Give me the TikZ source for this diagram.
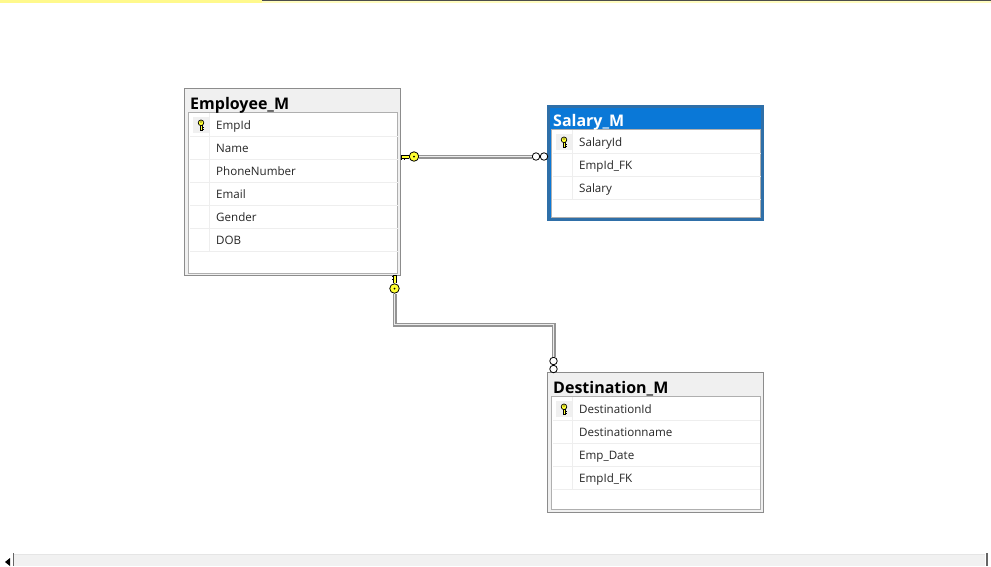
\documentclass[tikz,border=0pt]{standalone}
\usepackage{fontspec}
\setmainfont{Open Sans}
\usepackage{tikz}
\usetikzlibrary{positioning}
\definecolor{keyyellow}{HTML}{FFFF33}
\definecolor{titlegray}{HTML}{F0F0F0}
\definecolor{boxgray}{HTML}{8C8C8C}
\definecolor{rulegray}{HTML}{EEEEEE}
\definecolor{selblue}{HTML}{0A78D7}
\definecolor{selframe}{HTML}{2F6FA8}
\definecolor{barbg}{HTML}{F1F1F1}
\newcommand{\rowrule}[3]{\draw[rowrule] (#1,#3) -- (#2,#3);}

\begin{document}
\begin{tikzpicture}[x=1pt,y=-1pt,
	tablebox/.style={draw=boxgray,fill=titlegray,line width=1pt,inner sep=0pt,minimum width=216pt},
	selbox/.style={draw=selframe,fill=selblue,line width=3pt,inner sep=0pt,minimum width=214pt},
	tablebody/.style={draw=boxgray!70,fill=white,line width=1pt,inner sep=0pt,minimum width=209pt},
	title/.style={anchor=base west,inner sep=0pt,font=\fontsize{16}{16}\selectfont\bfseries},
	field/.style={anchor=base west,inner sep=0pt,font=\fontsize{11.6}{12}\selectfont,text=black!85},
	rowrule/.style={draw=rulegray,line width=0.8pt},
	keycell/.style={fill=titlegray,inner sep=0pt,minimum size=16pt},
	keyhead/.style={circle,draw=black,fill=keyyellow,line width=0.8pt,inner sep=0pt,minimum size=9.5pt},
	loopend/.style={circle,draw=black,fill=white,line width=0.8pt,inner sep=0pt,minimum size=7.5pt},
	relation/.style={draw=black!42,double=white!92!black,double distance=1.2pt,line width=1.4pt},
	keyshaft/.pic={
		\draw[black,line width=0.7pt,fill=keyyellow] (0,-1.5) -- (-8,-1.5) -- (-8,1.5) -- (0,1.5);
		\draw[black,line width=0.9pt] (-7,1.5) -- (-7,3) (-4,1.5) -- (-4,3);
	},
	smallkey/.pic={
		\draw[black,line width=0.6pt,fill=keyyellow] (-1,0) rectangle (1,5);
		\draw[black,line width=0.6pt] (1,2.5) -- (2.6,2.5) (1,4.5) -- (2.6,4.5);
		\draw[black,line width=0.7pt,fill=keyyellow] (0,-2.2) circle (2.8pt);
		\fill[black] (0,-3) circle (0.6pt);
	}]
\useasboundingbox (0,0) rectangle (991,566);
\fill[white] (0,0) rectangle (991,566);

% top strip
\fill[yellow!45] (0,0) rectangle (262,2.5);
\fill[yellow!25] (262,0) rectangle (991,2.5);
\draw[black!70,line width=0.8pt] (262,0.4) -- (991,0.4);

% scroll bar
\fill[barbg] (14,554) rectangle (985,566);
\draw[black!10,line width=0.8pt] (14,554) -- (985,554);
\fill[black] (10,558) -- (10,566) -- (5,562) -- cycle;
\draw[black!60,line width=1pt] (13,553) -- (13,566);
\draw[black!60,line width=1.2pt] (987,553) -- (987,566);

% Employee_M
\node[tablebox,minimum height=187pt] (employee) at (292.7,182.2) {};
\node[tablebody,minimum height=161pt] (employeeBody) at (293.2,192.5) {};
\node[title] (employeeTitle) at (190,109) {Employee\_M};
\draw[rowrule] (209,113) -- (209,251);
\rowrule{190}{398}{136}
\rowrule{190}{398}{159}
\rowrule{190}{398}{182}
\rowrule{190}{398}{205}
\rowrule{190}{398}{228}
\rowrule{190}{398}{251}
\node[keycell] (empCell) at (201,125) {};
\pic at (201,125) {smallkey};
\node[field] (empId) at (216,129) {EmpId};
\node[field] (empName) at (216,152) {Name};
\node[field] (empPhone) at (216,175) {PhoneNumber};
\node[field] (empMail) at (216,198) {Email};
\node[field] (empGender) at (216,221) {Gender};
\node[field] (empDob) at (216,244) {DOB};

% Salary_M
\node[selbox,minimum height=113pt] (salary) at (655.7,163.2) {};
\node[tablebody,minimum height=88pt] (salaryBody) at (656.2,173) {};
\node[title,text=white] (salaryTitle) at (553,126) {Salary\_M};
\draw[rowrule] (572,130) -- (572,199);
\rowrule{553}{761}{153}
\rowrule{553}{761}{176}
\rowrule{553}{761}{199}
\node[keycell] (salCell) at (564,142) {};
\pic at (564,142) {smallkey};
\node[field] (salId) at (579,146) {SalaryId};
\node[field] (salEmp) at (579,169) {EmpId\_FK};
\node[field] (salAmount) at (579,192) {Salary};

% Destination_M
\node[tablebox,minimum height=140pt] (destination) at (655.7,442.7) {};
\node[tablebody,minimum height=113pt] (destinationBody) at (655.9,452.5) {};
\node[title] (destinationTitle) at (553,393) {Destination\_M};
\draw[rowrule] (572,397) -- (572,489);
\rowrule{553}{760}{420}
\rowrule{553}{760}{443}
\rowrule{553}{760}{466}
\rowrule{553}{760}{489}
\node[keycell] (desCell) at (564,409) {};
\pic at (564,409) {smallkey};
\node[field] (desId) at (579,413) {DestinationId};
\node[field] (desName) at (579,436) {Destinationname};
\node[field] (desDate) at (579,459) {Emp\_Date};
\node[field] (desEmp) at (579,482) {EmpId\_FK};

% relation Employee_M - Salary_M
\node[keyhead] (keySalary) at (414,156.5) {};
\pic at (keySalary.west) {keyshaft};
\node[loopend] (loopSalaryA) at (536,156.5) {};
\node[loopend] (loopSalaryB) at (544,156.5) {};
\fill (keySalary) circle (1pt);
\draw[relation] (keySalary) -- (loopSalaryA);

% relation Employee_M - Destination_M
\node[keyhead] (keyDestination) at (394.5,288.5) {};
\pic[rotate=-90] at (keyDestination.north) {keyshaft};
\node[loopend] (loopDestinationA) at (553.5,361) {};
\node[loopend] (loopDestinationB) at (553.5,369) {};
\fill (keyDestination) circle (1pt);
\coordinate (bendDestination) at (474,324.5);
\draw[relation] (keyDestination) |- (bendDestination) -| (loopDestinationA);
\end{tikzpicture}
\end{document}
